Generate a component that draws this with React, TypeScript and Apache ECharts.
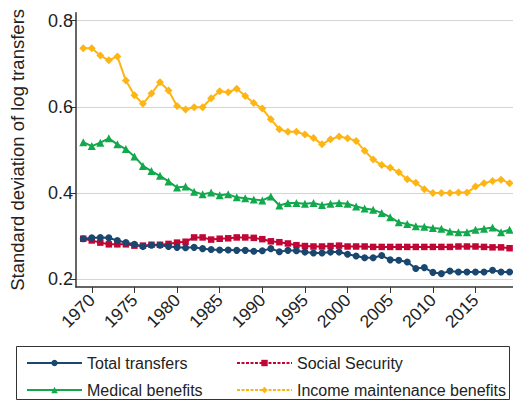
import React, { useEffect, useRef } from "react";
import * as echarts from "echarts";

const years: number[] = [];
for (let y = 1969; y <= 2019; y++) years.push(y);

const totalTransfers = [
  0.294, 0.296, 0.297, 0.296, 0.290, 0.285, 0.281, 0.276, 0.279, 0.279,
  0.276, 0.274, 0.273, 0.274, 0.271, 0.269, 0.268, 0.268, 0.267, 0.267,
  0.265, 0.266, 0.271, 0.264, 0.267, 0.266, 0.263, 0.261, 0.261, 0.263,
  0.263, 0.258, 0.254, 0.250, 0.250, 0.255, 0.245, 0.244, 0.240, 0.225,
  0.227, 0.216, 0.213, 0.219, 0.217, 0.217, 0.217, 0.217, 0.221, 0.217,
  0.217,
];
const socialSecurity = [
  0.294, 0.290, 0.285, 0.281, 0.281, 0.281, 0.278, 0.278, 0.280, 0.280,
  0.282, 0.285, 0.287, 0.297, 0.297, 0.292, 0.294, 0.295, 0.297, 0.297,
  0.296, 0.293, 0.288, 0.286, 0.283, 0.279, 0.277, 0.276, 0.276, 0.277,
  0.278, 0.276, 0.276, 0.276, 0.275, 0.275, 0.275, 0.275, 0.275, 0.275,
  0.275, 0.275, 0.275, 0.275, 0.276, 0.276, 0.276, 0.275, 0.274, 0.274,
  0.272,
];
const medicalBenefits = [
  0.518, 0.509, 0.517, 0.527, 0.513, 0.502, 0.485, 0.463, 0.451, 0.440,
  0.427, 0.413, 0.415, 0.403, 0.397, 0.401, 0.395, 0.397, 0.390, 0.388,
  0.385, 0.383, 0.392, 0.371, 0.377, 0.377, 0.375, 0.377, 0.372, 0.375,
  0.377, 0.375, 0.369, 0.364, 0.361, 0.354, 0.344, 0.332, 0.328, 0.323,
  0.322, 0.319, 0.317, 0.311, 0.309, 0.309, 0.315, 0.317, 0.320, 0.309,
  0.315,
];
const incomeMaintenance = [
  0.736, 0.736, 0.719, 0.708, 0.717, 0.661, 0.627, 0.607, 0.631, 0.657,
  0.638, 0.602, 0.594, 0.599, 0.599, 0.620, 0.636, 0.634, 0.642, 0.625,
  0.609, 0.596, 0.571, 0.548, 0.542, 0.542, 0.536, 0.528, 0.513, 0.525,
  0.531, 0.527, 0.521, 0.498, 0.478, 0.465, 0.459, 0.448, 0.432, 0.424,
  0.409, 0.400, 0.400, 0.400, 0.401, 0.401, 0.415, 0.423, 0.428, 0.431,
  0.423,
];

const xTicks = [1970, 1975, 1980, 1985, 1990, 1995, 2000, 2005, 2010, 2015];
const yTicks = [0.2, 0.4, 0.6, 0.8];

const seriesNames = [
  "Total transfers",
  "Social Security",
  "Medical benefits",
  "Income maintenance benefits",
];
const seriesColors = ["#1a476f", "#c10534", "#12a84c", "#fdb515"];

const FONT = "'Liberation Sans', Arial, Helvetica, sans-serif";

export default function App() {
  const ref = useRef<HTMLDivElement>(null);
  useEffect(() => {
    if (!ref.current) return;
    const chart = echarts.init(ref.current, undefined, { renderer: "svg" });
    const pairs = (vals: number[]) => years.map((y, i) => [y, vals[i]]);
    const dataSets = [totalTransfers, socialSecurity, medicalBenefits, incomeMaintenance];
    const symbols = ["circle", "rect", "triangle", "diamond"];
    const symbolSizes = [7, 6.5, 8, 8];
    const legendLineTypes: any[] = ["solid", [3, 1.5], "solid", [3, 1.5]];

    const series: any[] = dataSets.map((d, i) => ({
      name: seriesNames[i],
      type: "line",
      data: pairs(d),
      symbol: symbols[i],
      symbolSize: symbolSizes[i],
      showSymbol: true,
      color: seriesColors[i],
      itemStyle: { color: seriesColors[i] },
      lineStyle: { color: seriesColors[i], width: 2, type: "solid" },
      z: 3 + (i === 0 ? 3 : i === 1 ? 2 : 1),
    }));

    const legendPos = [
      { left: 26, top: 355 },
      { left: 236, top: 355 },
      { left: 26, top: 382 },
      { left: 236, top: 382 },
    ];
    const legend = seriesNames.map((n, i) => ({
      data: [n],
      left: legendPos[i].left,
      top: legendPos[i].top,
      itemWidth: 55,
      itemHeight: 8,
      itemGap: 8,
      padding: 0,
      lineStyle: { type: legendLineTypes[i], width: 2 },
      textStyle: { fontSize: 16, color: "#222", fontFamily: FONT },
    }));

    chart.setOption({
      animation: false,
      textStyle: { fontFamily: FONT },
      legend,
      grid: { left: 68, right: 0, top: 12.7, bottom: 114, containLabel: false },
      xAxis: {
        type: "value",
        min: 1968.15,
        max: 2019.4,
        axisLine: { show: true, lineStyle: { color: "#333", width: 1.5 } },
        axisTick: {
          show: true,
          length: 6,
          customValues: xTicks,
          lineStyle: { color: "#333", width: 1 },
        },
        axisLabel: {
          customValues: xTicks,
          rotate: 45,
          fontSize: 17.5,
          color: "#222",
          margin: 10,
          fontFamily: FONT,
          formatter: (v: number) => String(v),
        },
        splitLine: { show: false },
      },
      yAxis: {
        type: "value",
        min: 0.182,
        max: 0.8185,
        name: "Standard deviation of log transfers",
        nameLocation: "middle",
        nameGap: 49,
        nameTextStyle: { fontSize: 18.5, color: "#222", fontFamily: FONT },
        axisLine: { show: true, lineStyle: { color: "#333", width: 1.5 } },
        axisTick: {
          show: true,
          length: 6,
          customValues: yTicks,
          lineStyle: { color: "#333", width: 1 },
        },
        axisLabel: {
          customValues: yTicks,
          fontSize: 18,
          color: "#222",
          margin: 3,
          fontFamily: FONT,
          formatter: (v: number) => v.toFixed(1),
        },
        splitLine: { show: true, lineStyle: { color: "#d4d4d4", width: 1.2 } },
      },
      graphic: [
        {
          type: "rect",
          shape: { x: 16.5, y: 346.5, width: 493, height: 53 },
          style: { fill: "none", stroke: "#333", lineWidth: 1 },
          silent: true,
        },
      ],
      series,
    });
    return () => chart.dispose();
  }, []);
  return (
    <div
      ref={ref}
      style={{ position: "fixed", left: 0, top: 0, width: 513, height: 401, background: "#fff" }}
    />
  );
}
